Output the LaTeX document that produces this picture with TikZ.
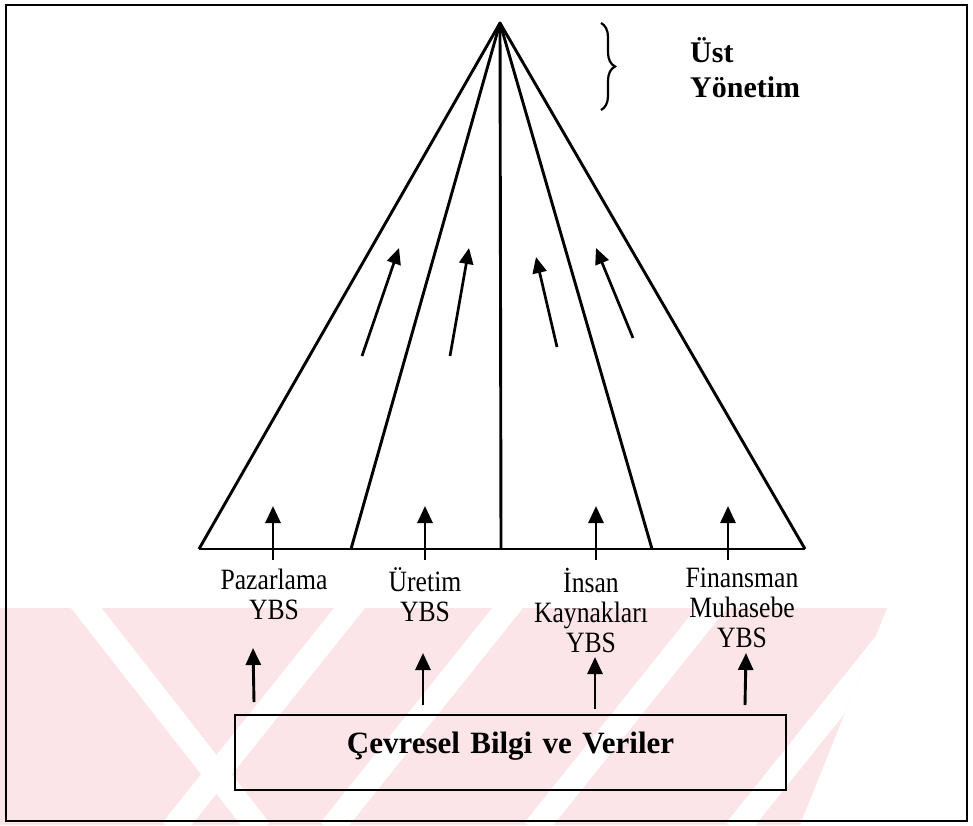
\documentclass[tikz,border=0pt]{standalone}
\usepackage{fontspec}
\setmainfont{Liberation Serif}
\newfontfamily\labelfont{Liberation Serif}[FakeStretch=0.87]
\usetikzlibrary{arrows.meta,decorations.pathreplacing}
\definecolor{wmpink}{RGB}{252,229,233}
\begin{document}
\begin{tikzpicture}[x=1pt,y=-1pt,
  edge/.style={line width=2.9pt,line join=round},
  uparrow/.style={line width=2.9pt,-{Triangle[width=15pt,length=17pt]}},
  midarrow/.style={line width=2.7pt,-{Triangle[width=14pt,length=16pt]}},
  lbl/.style={anchor=base,inner sep=0pt,font=\labelfont\fontsize{29.5}{30}\selectfont},
  head/.style={anchor=base west,inner sep=0pt,font=\fontsize{30}{35}\selectfont\bfseries},
  envbox/.style={draw,line width=2pt,anchor=base,inner sep=0pt,
    text width=551pt,align=center,text height=38pt,text depth=37pt,
    font=\fontsize{31}{36}\selectfont\bfseries},
  stripe/.style={white,line width=24pt}
]
\useasboundingbox (0,0) rectangle (973,825);

% faint pink background pattern in the lower part
\begin{scope}
  \clip (0,608) -- (887,608) -- (800,825) -- (0,825) -- cycle;
  \fill[wmpink] (0,600) rectangle (973,830);
  \foreach \x in {276,434,638,840}
    \draw[stripe] ({\x+80},600) -- ({\x-104},830);
  \draw[stripe] (80,600) -- (260,830);
\end{scope}

% outer frame
\draw[line width=2.5pt] (6,5) rectangle (967,821);

% pyramid
\coordinate (apex) at (500,23);
\coordinate (b1) at (199,549);
\coordinate (b2) at (351,549);
\coordinate (b3) at (501,549);
\coordinate (b4) at (652,549);
\coordinate (b5) at (805,549);
\draw[edge] (b1) -- (apex) -- (b5);
\draw[edge] (b1) -- (b5);
\draw[edge] (apex) -- (b2);
\draw[edge] (apex) -- (b3);
\draw[edge] (apex) -- (b4);

% arrows inside the pyramid
\coordinate (m1s) at (362,356); \coordinate (m1e) at (399,248);
\coordinate (m2s) at (450,356); \coordinate (m2e) at (469,248);
\coordinate (m3s) at (557,347); \coordinate (m3e) at (536,257);
\coordinate (m4s) at (633,338); \coordinate (m4e) at (596,248);
\draw[midarrow] (m1s) -- (m1e);
\draw[midarrow] (m2s) -- (m2e);
\draw[midarrow] (m3s) -- (m3e);
\draw[midarrow] (m4s) -- (m4e);

% arrows crossing the base
\foreach \n/\x in {1/273,2/425,3/596,4/728}{
  \coordinate (u\n s) at (\x,560);
  \coordinate (u\n e) at (\x,506);
  \draw[uparrow] (u\n s) -- (u\n e);
}

% top management
\draw[line width=2.2pt,decorate,decoration={brace,amplitude=14pt}]
  (601,23) -- (601,110);
\node[head] (top) at (690,62)
  {\begin{tabular}[t]{@{}l@{}}Üst\\Yönetim\end{tabular}};

% functional information systems
\node[lbl] (paz) at (274,589)
  {\begin{tabular}[t]{@{}c@{}}Pazarlama\\YBS\end{tabular}};
\node[lbl] (ure) at (425,591)
  {\begin{tabular}[t]{@{}c@{}}Üretim\\YBS\end{tabular}};
\node[lbl] (ik) at (591,592)
  {\begin{tabular}[t]{@{}c@{}}İnsan\\Kaynakları\\YBS\end{tabular}};
\node[lbl] (fin) at (742,587)
  {\begin{tabular}[t]{@{}c@{}}Finansman\\Muhasebe\\YBS\end{tabular}};

% environmental data
\node[envbox] (env) at (510.5,753) {Çevresel Bilgi ve Veriler};

\coordinate (l1s) at (254,702); \coordinate (l1e) at (253,648);
\coordinate (l2s) at (423,705); \coordinate (l2e) at (423,653);
\coordinate (l3s) at (595,709); \coordinate (l3e) at (595,657);
\coordinate (l4s) at (745,705); \coordinate (l4e) at (746,653);
\draw[uparrow] (l1s) -- (l1e);
\draw[uparrow] (l2s) -- (l2e);
\draw[uparrow] (l3s) -- (l3e);
\draw[uparrow] (l4s) -- (l4e);
\end{tikzpicture}
\end{document}
